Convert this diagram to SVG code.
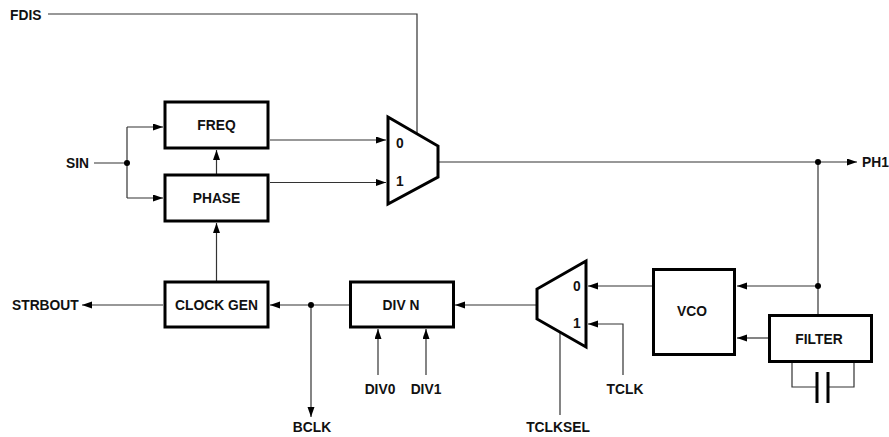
<svg xmlns="http://www.w3.org/2000/svg" width="889" height="437" viewBox="0 0 889 437">
<style>
.box{fill:#fff;stroke:#000;stroke-width:3}
.mux{fill:#fff;stroke:#000;stroke-width:3;stroke-linejoin:miter}
.w{fill:none;stroke:#333;stroke-width:1.2}
.a{marker-end:url(#ah)}
.t{font-family:"Liberation Sans",Arial,sans-serif;font-weight:bold;font-size:13.8px;fill:#111}
.c{text-anchor:middle}
.dot{fill:#000}
.plate{stroke:#000;stroke-width:3}
</style>
<defs>
<marker id="ah" markerUnits="userSpaceOnUse" markerWidth="11" markerHeight="8" refX="10" refY="3.5" orient="auto">
<path d="M0,0 L10,3.5 L0,7 z" fill="#000"/>
</marker>
</defs>
<g id="connectors">
<path class="w" d="M48,14 H417 V133"/>
<path class="w" d="M94,163 H127"/>
<path class="w" d="M127,127 V198"/>
<path class="w a" d="M127,127 H163"/>
<path class="w a" d="M127,198 H163"/>
<path class="w a" d="M270,140 H386"/>
<path class="w a" d="M270,182.5 H386"/>
<path class="w a" d="M216.5,174 V150"/>
<path class="w a" d="M439,162 H857"/>
<path class="w" d="M818,162 V314"/>
<path class="w a" d="M818,286 H737"/>
<path class="w a" d="M768,338 H737"/>
<path class="w a" d="M652,286 H588"/>
<path class="w a" d="M623,375 V324 H588"/>
<path class="w" d="M560,333 V415"/>
<path class="w a" d="M536,305 H455"/>
<path class="w a" d="M349,305 H270"/>
<path class="w a" d="M311,305 V417"/>
<path class="w a" d="M216.5,281 V223"/>
<path class="w a" d="M163,305 H82"/>
<path class="w a" d="M378,375 V329"/>
<path class="w a" d="M426,375 V329"/>
<path class="w" d="M792,363 V387 H816 M829,387 H854 V363"/>
<line class="plate" x1="817" y1="372" x2="817" y2="403"/>
<line class="plate" x1="828" y1="372" x2="828" y2="403"/>
<circle class="dot" cx="127" cy="163" r="3"/>
<circle class="dot" cx="818" cy="162" r="3"/>
<circle class="dot" cx="818" cy="286" r="3"/>
<circle class="dot" cx="311" cy="305" r="3"/>
</g>
<g id="freq"><rect class="box" x="165" y="102" width="103" height="46"/><text class="t c" x="216.5" y="130">FREQ</text></g>
<g id="phase"><rect class="box" x="165" y="175" width="103" height="46"/><text class="t c" x="216.5" y="203">PHASE</text></g>
<g id="mux1"><polygon class="mux" points="388,117 438,146 438,177 388,204"/><text class="t" x="396" y="148">0</text><text class="t" x="396" y="186">1</text></g>
<g id="clockgen"><rect class="box" x="165" y="282" width="103" height="45"/><text class="t c" x="216.5" y="310">CLOCK GEN</text></g>
<g id="divn"><rect class="box" x="350.5" y="282" width="103" height="45"/><text class="t c" x="401" y="310">DIV N</text></g>
<g id="mux2"><polygon class="mux" points="586,261 537,289 537,319 586,347"/><text class="t" x="573" y="291">0</text><text class="t" x="573" y="328">1</text></g>
<g id="vco"><rect class="box" x="653.5" y="269.5" width="81" height="85"/><text class="t c" x="692" y="316">VCO</text></g>
<g id="filter"><rect class="box" x="769.5" y="315.5" width="102" height="46"/><text class="t c" x="819" y="344">FILTER</text></g>
<g id="labels">
<text class="t" x="10" y="20">FDIS</text>
<text class="t" x="66" y="168">SIN</text>
<text class="t" x="862" y="167">PH1</text>
<text class="t" x="12" y="310">STRBOUT</text>
<text class="t c" x="312" y="432">BCLK</text>
<text class="t c" x="380" y="394">DIV0</text>
<text class="t c" x="426" y="394">DIV1</text>
<text class="t c" x="625" y="394">TCLK</text>
<text class="t c" x="558" y="432">TCLKSEL</text>
</g>
</svg>
